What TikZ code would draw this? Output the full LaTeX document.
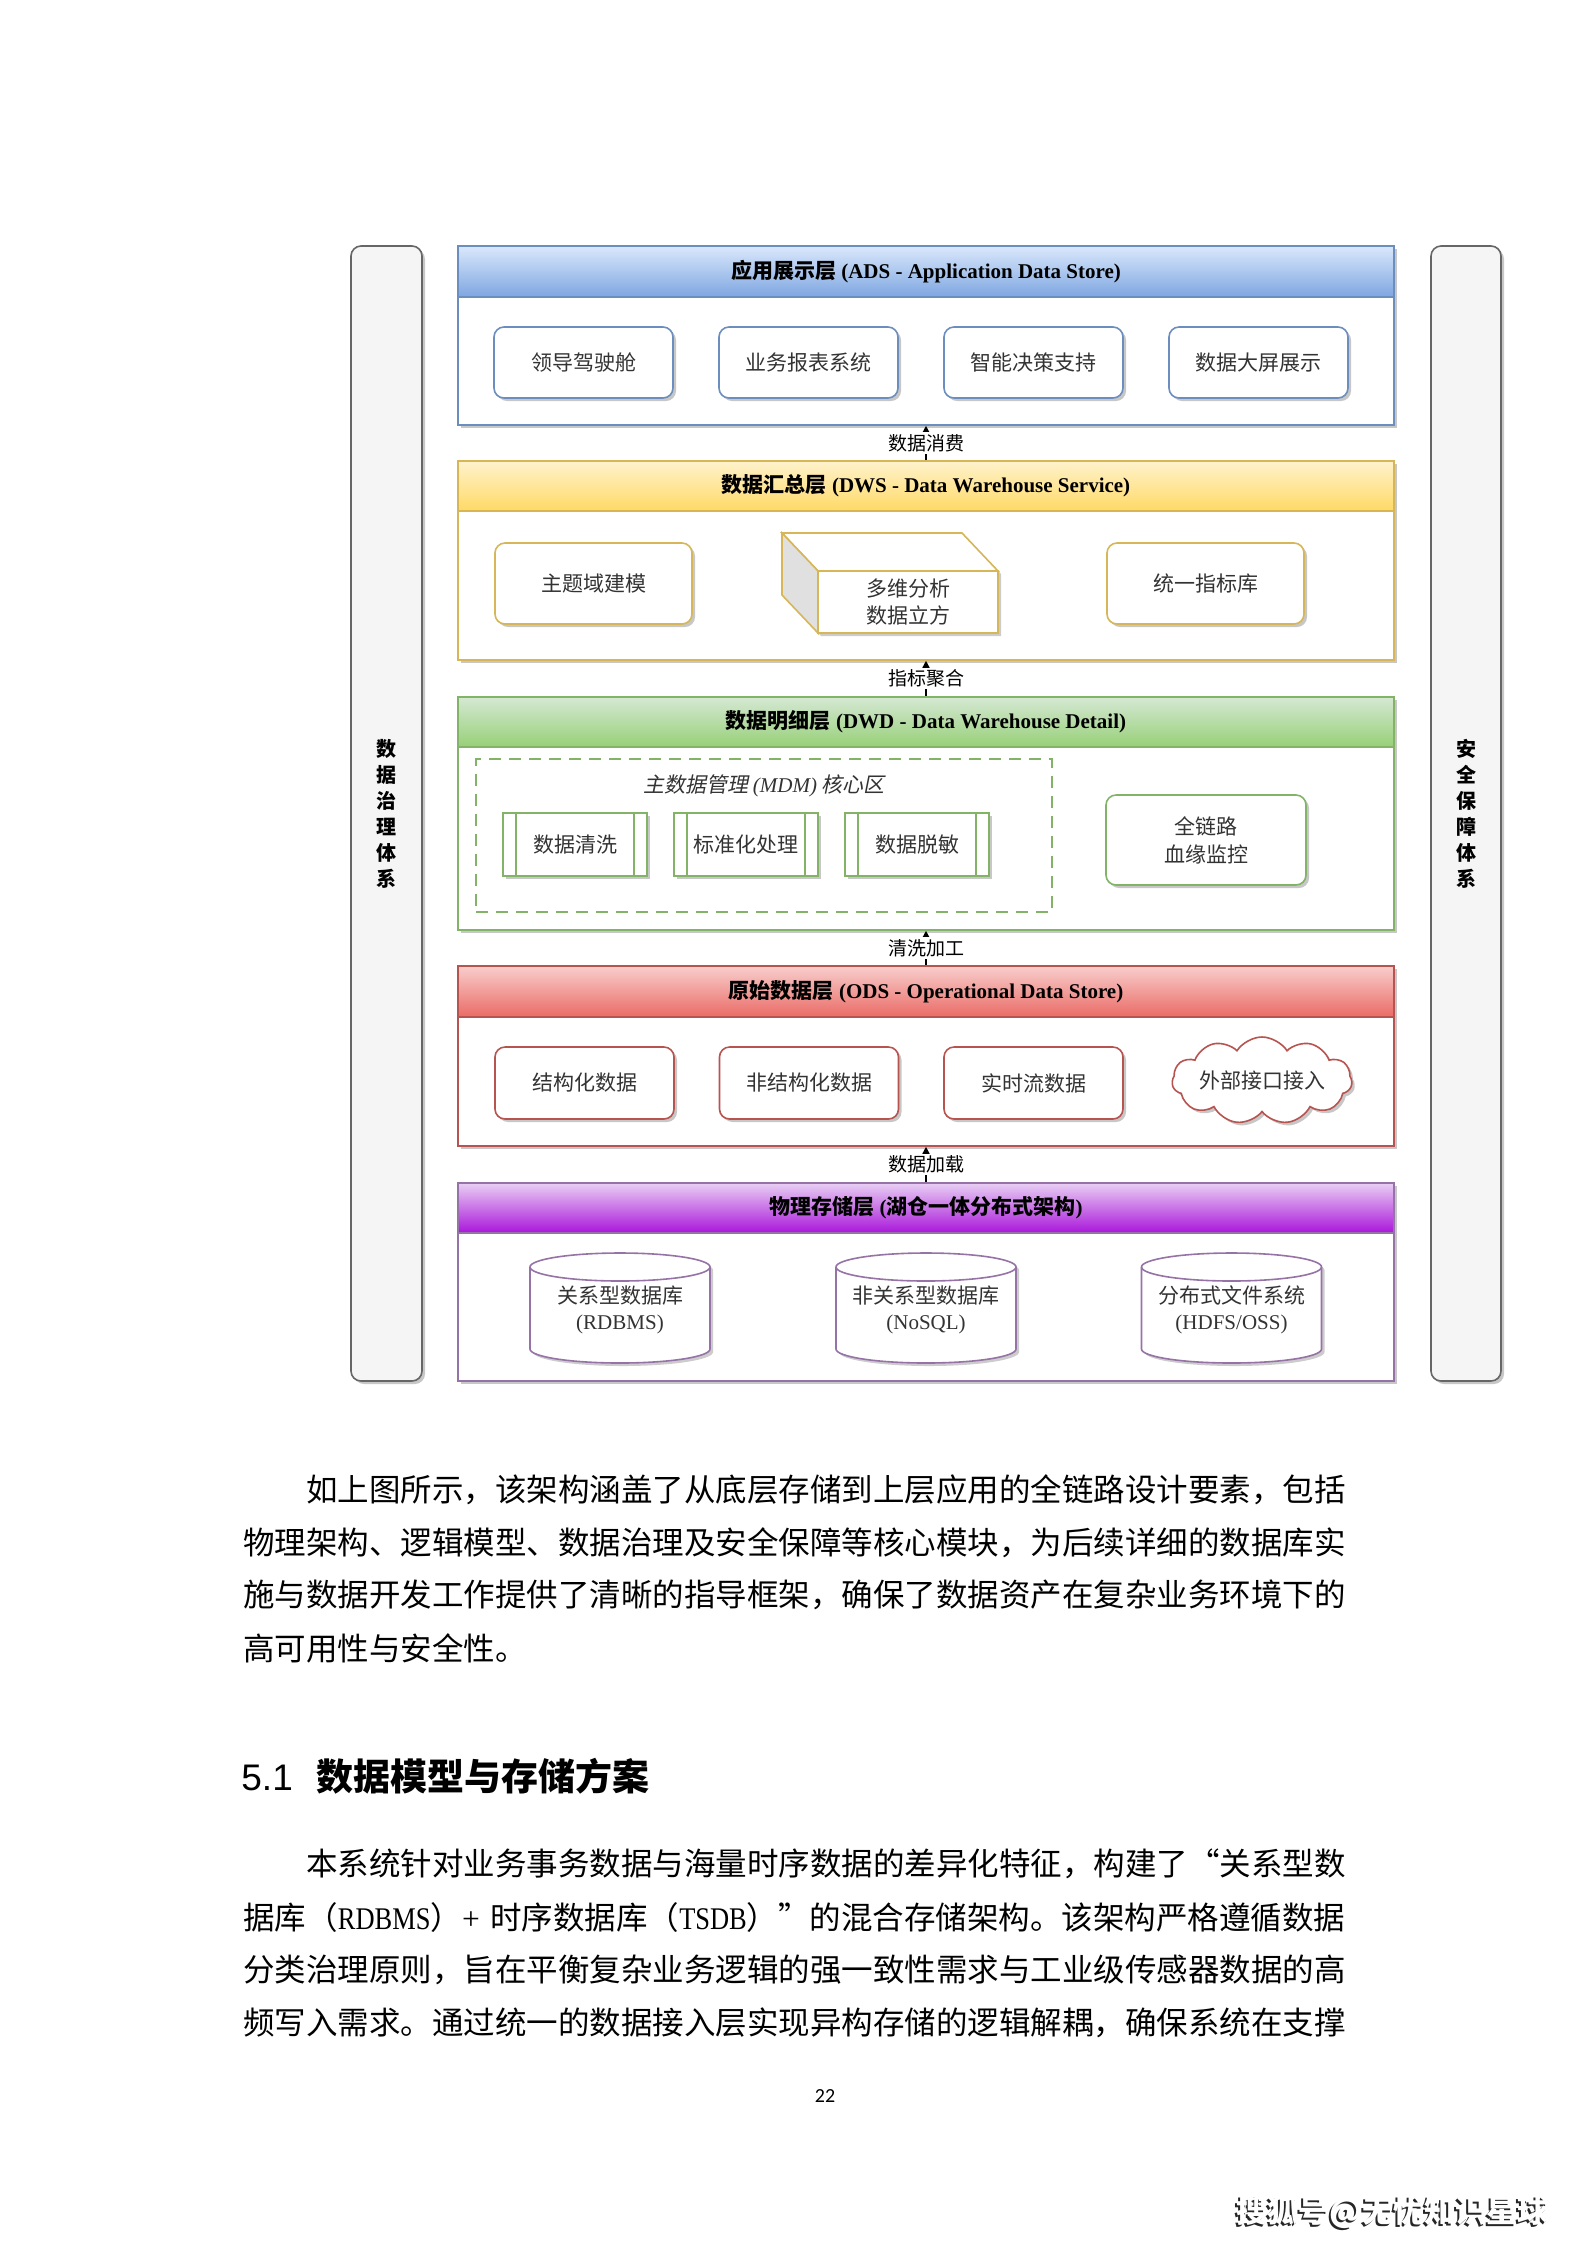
\documentclass[tikz,border=0pt]{standalone}
\usepackage{graphicx}
\usepackage{fontspec}
\setmainfont{Liberation Serif}
\newfontfamily\zh{Noto Sans CJK SC}
\newfontfamily\zhsl{Noto Sans CJK SC}[FakeSlant=0.2]
\newfontfamily\lsans{Liberation Sans}
\newfontfamily\carl{Carlito}
\usetikzlibrary{shadows,shapes.symbols,shapes.geometric,arrows.meta,fit,calc}

\definecolor{adsS}{HTML}{6C8EBF}\definecolor{adsT}{HTML}{DAE8FC}\definecolor{adsB}{HTML}{7EA6E0}
\definecolor{dwsS}{HTML}{D6B656}\definecolor{dwsT}{HTML}{FFF2CC}\definecolor{dwsB}{HTML}{FFD966}
\definecolor{dwdS}{HTML}{82B366}\definecolor{dwdT}{HTML}{D5E8D4}\definecolor{dwdB}{HTML}{97D077}
\definecolor{odsS}{HTML}{B85450}\definecolor{odsT}{HTML}{F8CECC}\definecolor{odsB}{HTML}{EA6B66}
\definecolor{phyS}{HTML}{9673A6}\definecolor{phyT}{HTML}{E8CFF3}\definecolor{phyB}{HTML}{A916DB}
\definecolor{sideF}{HTML}{F5F5F5}\definecolor{sideS}{HTML}{666666}

\begin{document}
\begin{tikzpicture}[x=0.5pt,y=-0.5pt,
  shadowed/.style={drop shadow={shadow xshift=1.5pt,shadow yshift=-1.5pt,opacity=0.22,fill=black}},
  layerbody/.style={draw=#1S,fill=white,line width=0.8pt,inner sep=0pt,shadowed},
  layerhead/.style={draw=#1S,top color=#1T,bottom color=#1B,line width=0.8pt,inner sep=0pt},
  ltitle/.style={inner sep=0pt,font=\fontsize{10.5pt}{12pt}\selectfont},
  boxfont/.style={text=black!80,font=\zh\fontsize{10.5pt}{13.5pt}\selectfont},
  rbox/.style={draw=#1,fill=white,rounded corners=5pt,line width=0.8pt,minimum width=89.5pt,
     minimum height=35.5pt,inner sep=0pt,align=center,boxfont,shadowed},
  pbox/.style={draw=dwdS,fill=white,line width=0.8pt,minimum width=72pt,minimum height=31.5pt,
     inner sep=0pt,boxfont,shadowed},
  side/.style={draw=sideS,fill=sideF,rounded corners=5pt,line width=0.8pt,inner sep=0pt,shadowed},
  sidetext/.style={align=center,inner sep=0pt,font=\zh\bfseries\fontsize{10pt}{13pt}\selectfont},
  conn/.style={-{Triangle[length=3.5pt,width=3.5pt]},line width=0.75pt,black},
  lab/.style={fill=white,inner sep=1pt,font=\zh\fontsize{9.5pt}{11pt}\selectfont},
  cyltext/.style={align=center,text=black!80,font=\fontsize{10.5pt}{13pt}\selectfont},
  bodytxt/.style={anchor=west,inner sep=0pt,font=\zh\fontsize{15.75pt}{18pt}\selectfont},
  dbcyl/.pic={
    \fill[black,opacity=0.2] (-87,-38) -- (-87,44) arc[start angle=180,end angle=0,x radius=90,y radius=14]
       -- (93,-38) arc[start angle=0,end angle=-180,x radius=90,y radius=14] -- cycle;
    \draw[phyS,fill=white,line width=0.8pt] (-90,-41) -- (-90,41)
       arc[start angle=180,end angle=0,x radius=90,y radius=14]
       -- (90,-41) arc[start angle=0,end angle=-180,x radius=90,y radius=14] -- cycle;
    \draw[phyS,line width=0.8pt] (-90,-41) arc[start angle=180,end angle=0,x radius=90,y radius=14];
  }
]
\path[use as bounding box,fill=white] (0,0) rectangle (1587,2245);

% side bars
\node[side,fit={(351,246) (422,1381)}] (gov) {};
\node[sidetext] (govt) at (gov.center) {数\\据\\治\\理\\体\\系};
\node[side,fit={(1431,246) (1501,1381)}] (sec) {};
\node[sidetext] (sect) at (sec.center) {安\\全\\保\\障\\体\\系};

% ADS
\node[layerbody=ads,fit={(458,246) (1394,425)}] (ads) {};
\node[layerhead=ads,fit={(458,246) (1394,297)}] (adsh) {};
\node[ltitle] (adst) at (adsh.center) {{\zh\bfseries 应用展示层} \textbf{(ADS - Application Data Store)}};
\node[rbox=adsS] (a1) at (583.5,362.5) {领导驾驶舱};
\node[rbox=adsS] (a2) at (808.5,362.5) {业务报表系统};
\node[rbox=adsS] (a3) at (1033.5,362.5) {智能决策支持};
\node[rbox=adsS] (a4) at (1258.5,362.5) {数据大屏展示};

% DWS
\node[layerbody=dws,fit={(458,461) (1394,660)}] (dws) {};
\node[layerhead=dws,fit={(458,461) (1394,511)}] (dwsh) {};
\node[ltitle] (dwst) at (dwsh.center) {{\zh\bfseries 数据汇总层} \textbf{(DWS - Data Warehouse Service)}};
\node[rbox=dwsS,minimum width=98.5pt,minimum height=40.5pt] (d1) at (593.5,583.5) {主题域建模};
\node[rbox=dwsS,minimum width=98.5pt,minimum height=40.5pt] (d3) at (1205.5,583.5) {统一指标库};
\fill[black,opacity=0.2] (785,536) -- (965,536) -- (1001,574) -- (1001,636) -- (821,636) -- (785,598) -- cycle;
\draw[dwsS,line width=0.8pt,fill=white] (818,571) rectangle (998,633);
\draw[dwsS,line width=0.8pt,fill=white] (782,533) -- (962,533) -- (998,571) -- (818,571) -- cycle;
\draw[dwsS,line width=0.8pt,fill=black!12] (782,533) -- (818,571) -- (818,633) -- (782,595) -- cycle;
\node[boxfont,align=center] (cube) at (908,602.5) {多维分析\\数据立方};

% DWD
\node[layerbody=dwd,fit={(458,697) (1394,930)}] (dwd) {};
\node[layerhead=dwd,fit={(458,697) (1394,747)}] (dwdh) {};
\node[ltitle] (dwdt) at (dwdh.center) {{\zh\bfseries 数据明细层} \textbf{(DWD - Data Warehouse Detail)}};
\node[draw=dwdS,dash pattern=on 6pt off 4pt,line width=0.8pt,inner sep=0pt,fit={(476,759) (1052,912)}] (mdm) {};
\node[text=black!80,font=\zhsl\fontsize{10.5pt}{12pt}\selectfont] (mdml) at (764,786) {主数据管理 {\normalfont\itshape (MDM)} 核心区};
\node[pbox] (w1) at (575,844.5) {数据清洗};
\node[pbox] (w2) at (746,844.5) {标准化处理};
\node[pbox] (w3) at (917,844.5) {数据脱敏};
\foreach \n in {w1,w2,w3}{
  \draw[dwdS,line width=0.8pt] ([xshift=7pt]\n.north west) -- ([xshift=7pt]\n.south west);
  \draw[dwdS,line width=0.8pt] ([xshift=-7pt]\n.north east) -- ([xshift=-7pt]\n.south east);
}
\node[rbox=dwdS,minimum width=100pt,minimum height=45pt,font=\zh\fontsize{10.5pt}{14pt}\selectfont] (w4) at (1206,840) {全链路\\血缘监控};

% ODS
\node[layerbody=ods,fit={(458,966) (1394,1146)}] (ods) {};
\node[layerhead=ods,fit={(458,966) (1394,1017)}] (odsh) {};
\node[ltitle] (odst) at (odsh.center) {{\zh\bfseries 原始数据层} \textbf{(ODS - Operational Data Store)}};
\node[rbox=odsS,minimum height=36pt] (o1) at (584.5,1083) {结构化数据};
\node[rbox=odsS,minimum height=36pt] (o2) at (809,1083) {非结构化数据};
\node[rbox=odsS,minimum height=36pt] (o3) at (1033.5,1083) {实时流数据};
\node[cloud,draw=odsS,fill=white,line width=0.8pt,cloud puffs=11,cloud puff arc=115,cloud ignores aspect,
      minimum width=90pt,minimum height=43.5pt,inner sep=0pt,boxfont,shadowed] (o4) at (1262,1080.5) {外部接口接入};

% PHY
\node[layerbody=phy,fit={(458,1183) (1394,1381)}] (phy) {};
\node[layerhead=phy,fit={(458,1183) (1394,1233)}] (phyh) {};
\node[ltitle] (phyt) at (phyh.center) {{\zh\bfseries 物理存储层} \textbf{(}{\zh\bfseries 湖仓一体分布式架构}\textbf{)}};
\pic at (620,1308) {dbcyl};
\pic at (926,1308) {dbcyl};
\pic at (1231.5,1308) {dbcyl};
\node[cyltext] (c1) at (620,1310) {{\zh 关系型数据库}\\(RDBMS)};
\node[cyltext] (c2) at (926,1310) {{\zh 非关系型数据库}\\(NoSQL)};
\node[cyltext] (c3) at (1231.5,1310) {{\zh 分布式文件系统}\\(HDFS/OSS)};

% connectors
\draw[conn] (dws.north) -- node[lab] (l1) {数据消费} (ads.south);
\draw[conn] (dwd.north) -- node[lab] (l2) {指标聚合} (dws.south);
\draw[conn] (ods.north) -- node[lab] (l3) {清洗加工} (dwd.south);
\draw[conn] (phy.north) -- node[lab] (l4) {数据加载} (ods.south);

% body text
\node[bodytxt] (t1) at (243,1490) {\hspace*{2em}如上图所示，该架构涵盖了从底层存储到上层应用的全链路设计要素，包括};
\node[bodytxt] (t2) at (243,1543) {物理架构、逻辑模型、数据治理及安全保障等核心模块，为后续详细的数据库实};
\node[bodytxt] (t3) at (243,1595) {施与数据开发工作提供了清晰的指导框架，确保了数据资产在复杂业务环境下的};
\node[bodytxt] (t4) at (243,1648) {高可用性与安全性。};

\node[anchor=west,inner sep=0pt,font=\zh\fontsize{18.5pt}{21pt}\selectfont] (hd) at (241,1776) {{\lsans 5.1}\hspace{12pt}{\bfseries 数据模型与存储方案}};

\node[bodytxt] (u1) at (243,1864) {\hspace*{2em}本系统针对业务事务数据与海量时序数据的差异化特征，构建了“关系型数};
\node[bodytxt] (u2) at (243,1918) {\makebox[551pt][s]{据库（{\rmfamily\scalebox{0.84}[1]{RDBMS}}）{\rmfamily +} 时序数据库（{\rmfamily\scalebox{0.84}[1]{TSDB}}）”的混合存储架构。该架构严格遵循数据}};
\node[bodytxt] (u3) at (243,1970) {分类治理原则，旨在平衡复杂业务逻辑的强一致性需求与工业级传感器数据的高};
\node[bodytxt] (u4) at (243,2023) {频写入需求。通过统一的数据接入层实现异构存储的逻辑解耦，确保系统在支撑};

\node[font=\carl\fontsize{10pt}{12pt}\selectfont] (pg) at (825,2096) {22};

\node[text=black!85,font=\zh\bfseries\fontsize{15.5pt}{18pt}\selectfont] (sh1) at (1390.5,2214) {搜狐号@无忧知识星球};
\node[text=white,font=\zh\bfseries\fontsize{15.5pt}{18pt}\selectfont] (sh2) at (1392.5,2212) {搜狐号@无忧知识星球};
\end{tikzpicture}
\end{document}
